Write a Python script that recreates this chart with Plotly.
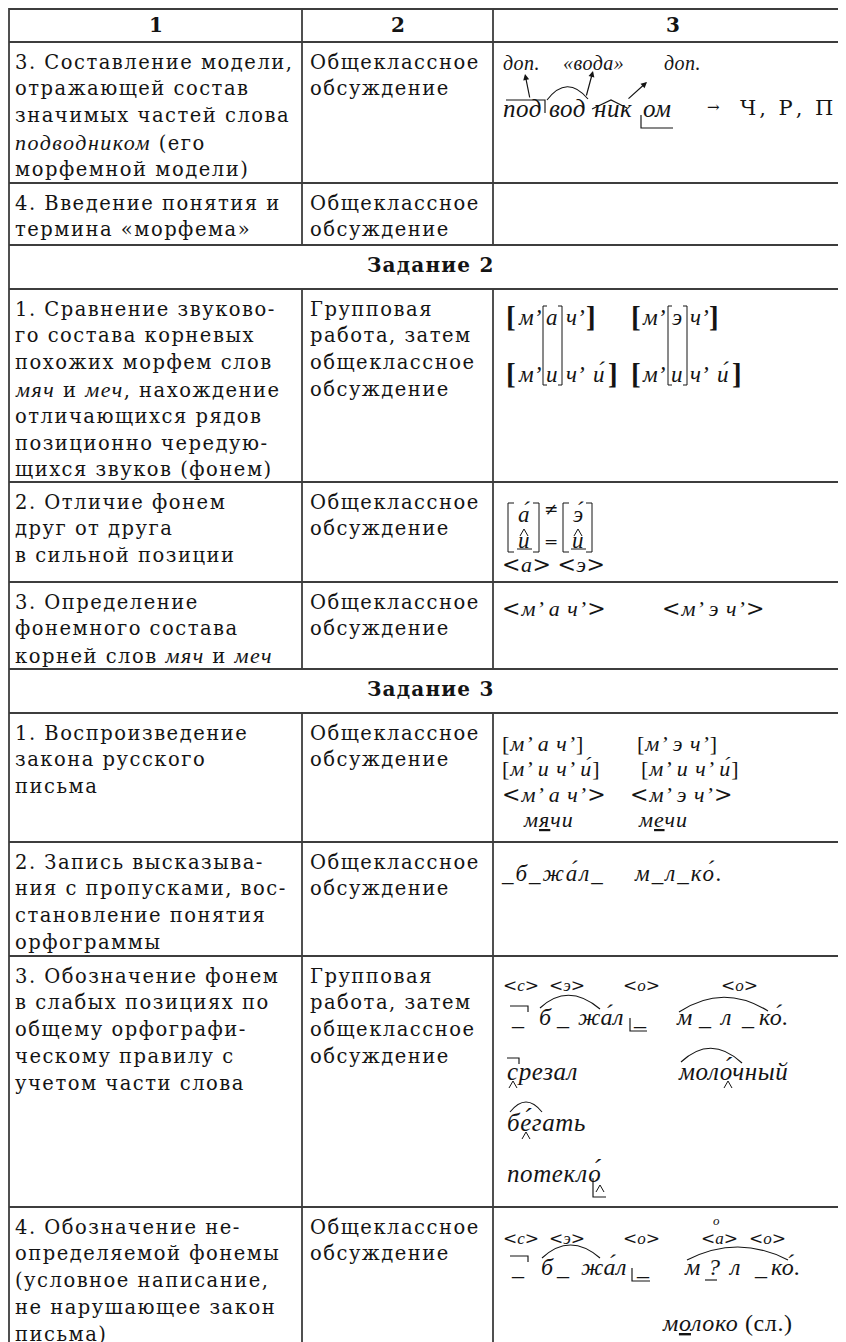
import plotly.graph_objects as go

# ---------------- table texts ----------------
header_labels = ["1", "2", "3"]
section_titles = ["Задание 2", "Задание 3"]

task_lines = [
    ["3. Составление модели,", "отражающей состав", "значимых частей слова",
     "<i>подводником</i> (его", "морфемной модели)"],
    ["4. Введение понятия и", "термина «морфема»"],
    ["1. Сравнение звуково-", "го состава корневых", "похожих морфем слов",
     "<i>мяч</i> и <i>меч</i>, нахождение", "отличающихся рядов",
     "позиционно чередую-", "щихся звуков (фонем)"],
    ["2. Отличие фонем", "друг от друга", "в сильной позиции"],
    ["3. Определение", "фонемного состава", "корней слов <i>мяч</i> и <i>меч</i>"],
    ["1. Воспроизведение", "закона русского", "письма"],
    ["2. Запись высказыва-", "ния с пропусками, вос-", "становление понятия", "орфограммы"],
    ["3. Обозначение фонем", "в слабых позициях по", "общему орфографи-",
     "ческому правилу с", "учетом части слова"],
    ["4. Обозначение не-", "определяемой фонемы", "(условное написание,",
     "не нарушающее закон", "письма)"],
]
GROUP = ["Групповая", "работа, затем", "общеклассное", "обсуждение"]
COMMON = ["Общеклассное", "обсуждение"]
work_form_lines = [COMMON, COMMON, GROUP, COMMON, COMMON, COMMON, COMMON, GROUP, COMMON]

# column 3 notation texts
morph_labels = ["доп.", "«вода»", "доп."]
morph_parts = ["под", "вод", "ник", "ом"]
morph_result = "Ч, Р, П"
sound_line1 = ["м’", "а", "ч’", "м’", "э", "ч’"]
sound_line2 = ["м’", "и", "ч’", "и\u0301", "м’", "и", "ч’", "и\u0301"]
strong_top = ["а\u0301", "э\u0301"]
strong_bottom = ["и", "и"]
strong_signs = ["≠", "="]
phonemes_pair = "&lt;<i>а</i>&gt; &lt;<i>э</i>&gt;"
phoneme_roots = ["&lt;<i>м’ а ч’</i>&gt;", "&lt;<i>м’ э ч’</i>&gt;"]
law_lines = [
    ["[<i>м’ а ч’</i>]", "[<i>м’ э ч’</i>]"],
    ["[<i>м’ и ч’ и\u0301</i>]", "[<i>м’ и ч’ и\u0301</i>]"],
    ["&lt;<i>м’ а ч’</i>&gt;", "&lt;<i>м’ э ч’</i>&gt;"],
    ["<i>м<u>я</u>чи</i>", "<i>м<u>е</u>чи</i>"],
]
gap_words = ["<i>_б_жа\u0301л_</i>", "<i>м_л_ко\u0301.</i>"]
weak_phonemes = ["&lt;<i>с</i>&gt;", "&lt;<i>э</i>&gt;", "&lt;<i>о</i>&gt;", "&lt;<i>о</i>&gt;"]
word1_tokens = ["_", "б", "_", "жа\u0301л", "_"]
word2_tokens = ["м", "_", "л", "_", "ко\u0301."]
check_words = ["срезал", "моло\u0301чный", "бе\u0301гать", "потекло\u0301"]
weak_phonemes4 = ["&lt;<i>с</i>&gt;", "&lt;<i>э</i>&gt;", "&lt;<i>о</i>&gt;", "&lt;<i>а</i>&gt;", "&lt;<i>о</i>&gt;"]
stacked_letter = "о"
word2_tokens4 = ["м", "?", "л", "_", "ко\u0301."]
dictionary_word = "<i>м<u>о</u>локо</i> (сл.)"

# ---------------- styling ----------------
INK = "#141414"
LINE = "#3d3d3d"
UP = "DejaVu Serif"
IT = "Liberation Serif"
# the page body has an 8px margin: the figure covers page pixels 8..846 x 8..1342
OFF = 8
PW, PH = 846, 1342
W, H = PW - OFF, PH - OFF

shapes = []
anns = []


def fix(s):
    s = s.replace("<u>", '<span style="text-decoration:underline">').replace("</u>", "</span>")
    s = s.replace("&lt;", f'<span style="font-family:{UP}">&lt;</span>')
    s = s.replace("&gt;", f'<span style="font-family:{UP}">&gt;</span>')
    return s


def txt(x, y, s, size=18, fam=UP, xanchor="left", bold=False, italic=False, ls=None):
    s = fix(s)
    if italic:
        s = "<i>" + s + "</i>"
    if bold:
        s = "<b>" + s + "</b>"
    if ls is not None:
        s = f'<span style="letter-spacing:{ls}px">' + s + "</span>"
    anns.append(dict(x=x, y=y, xref="x", yref="y", text=s, showarrow=False,
                     xanchor=xanchor, yanchor="middle", borderpad=0,
                     font=dict(family=fam, size=size, color=INK)))


def body(x, y, s):
    s = s.replace("<i>", f'<span style="font-family:{IT};font-style:italic;font-size:22px">').replace("</i>", "</span>")
    txt(x, y, s, size=19.5, fam=UP, ls=1.5)


def seg(x0, y0, x1, y1, w=1.8, color=LINE):
    shapes.append(dict(type="line", xref="x", yref="y", x0=x0, y0=y0, x1=x1, y1=y1,
                       line=dict(color=color, width=w)))


def pth(d, w=1.15, color=INK):
    shapes.append(dict(type="path", xref="x", yref="y", path=d,
                       line=dict(color=color, width=w)))


def caret(xc, yc):
    pth(f"M {xc-4} {yc+4} L {xc} {yc-3} L {xc+4} {yc+4}", w=1.0)


def arrow(tx, ty, hx, hy):
    anns.append(dict(x=hx, y=hy, ax=tx, ay=ty, xref="x", yref="y", axref="x", ayref="y",
                     text="", showarrow=True, arrowhead=2, arrowsize=1.0, arrowwidth=1.2,
                     arrowcolor=INK, standoff=0, startstandoff=0))


# ---------------- grid ----------------
COLS = [9, 302, 493, 853]
H_LINES = [9, 42, 183, 245, 289, 482, 582, 669, 713, 842, 956, 1207]
for y in H_LINES:
    seg(COLS[0], y, PW + 5, y)
seg(COLS[0], 8, COLS[0], PH + 5)
for x in COLS[1:3]:
    for (a, b) in [(8, 245), (289, 669), (713, PH + 5)]:
        seg(x, a, x, b)

# header
for i, lab in enumerate(header_labels):
    txt((COLS[i] + COLS[i + 1]) / 2, 25, lab, size=20, bold=True, xanchor="center")
# sections
for title, (a, b) in zip(section_titles, [(245, 289), (669, 713)]):
    txt(431, (a + b) / 2 - 2, title, size=20, bold=True, xanchor="center", ls=1.2)

ROW_TOPS = [42, 183, 289, 482, 582, 713, 842, 956, 1207]
LH = 26.8
for top, lines1, lines2 in zip(ROW_TOPS, task_lines, work_form_lines):
    for k, s in enumerate(lines1):
        body(14, top + 20 + k * LH, s)
    for k, s in enumerate(lines2):
        body(309, top + 20 + k * LH, s)

# ---------------- column 3 ----------------
# row: morpheme model
for s, x in zip(morph_labels, [502, 562, 663]):
    txt(x, 63, s, size=20, fam=IT, italic=True, ls=0.5)
for s, x in zip(morph_parts, [502, 548, 593, 642]):
    txt(x, 108, s, size=25, fam=IT, italic=True, ls=0.5)
txt(706, 107, "→", size=15, fam=UP)
txt(739, 108, morph_result, size=21, fam=UP, ls=3)
pth("M 506 100 L 545 100 L 545 113")
pth("M 547 100 Q 567 74 588 99")
pth("M 592 109 L 611 100 L 627 108")
pth("M 641 115 L 641 128 L 673 128")
arrow(530, 99, 525, 74)
arrow(586, 97, 593, 71)
arrow(627, 100, 647, 82)

# Задание 2, row 1 : boxed alternating sounds
Y1, Y2 = 317, 374
for x in [505, 630]:
    txt(x, Y1, "[", size=29, fam=IT, bold=True)
    txt(x, Y2, "[", size=29, fam=IT, bold=True)
for x in [585, 708]:
    txt(x, Y1, "]", size=29, fam=IT, bold=True)
for x in [607, 731]:
    txt(x, Y2, "]", size=29, fam=IT, bold=True)
xs1 = [517, 552, 565, 641, 677, 689]
for s, x in zip(sound_line1, xs1):
    txt(x, Y1, s, size=23, fam=IT, italic=True, xanchor="center" if s in ("а", "э") else "left")
xs2 = [517, 552, 565, 592, 641, 677, 689, 716]
for s, x in zip(sound_line2, xs2):
    txt(x, Y2, s, size=23, fam=IT, italic=True, xanchor="center" if s == "и" else "left")
for (l, r) in [(543, 562), (668, 687)]:
    pth(f"M {l+4} 306 L {l} 306 L {l} 385 L {l+4} 385", w=1.0)
    pth(f"M {r-4} 306 L {r} 306 L {r} 385 L {r-4} 385", w=1.0)

# Задание 2, row 2 : strong position
for (l, r) in [(508, 539), (563, 592)]:
    pth(f"M {l+6} 503 L {l} 503 L {l} 552 L {l+6} 552", w=1.0)
    pth(f"M {r-6} 503 L {r} 503 L {r} 552 L {r-6} 552", w=1.0)
for s, b, xc in zip(strong_top, strong_bottom, [524, 578]):
    txt(xc, 514, s, size=23, fam=IT, italic=True, xanchor="center")
    caret(xc, 532)
    txt(xc, 540, b, size=23, fam=IT, italic=True, xanchor="center")
    pth(f"M {xc-7} 549 L {xc+8} 549", w=1.0)
txt(551, 509, strong_signs[0], size=17, fam=UP, xanchor="center")
txt(551, 541, strong_signs[1], size=17, fam=UP, xanchor="center")
txt(501, 564, phonemes_pair, size=22, fam=IT, ls=0.5)

# Задание 2, row 3
for s, x in zip(phoneme_roots, [501, 661]):
    txt(x, 608, s, size=22, fam=IT, ls=1)

# Задание 3, row 1
law_x = [[501, 636], [501, 640], [501, 629], [522, 637]]
for k, (pair, xs) in enumerate(zip(law_lines, law_x)):
    for s, x in zip(pair, xs):
        txt(x, 743 + k * 25.5, s, size=22, fam=IT, ls=1)

# Задание 3, row 2
for s, x in zip(gap_words, [500, 633]):
    txt(x, 873, s, size=23, fam=IT, ls=2)

# Задание 3, row 3
for s, x in zip(weak_phonemes, [502, 548, 622, 720]):
    txt(x, 985, s, size=17, fam=IT)
YC = 1017
for s, x in zip(word1_tokens, [510, 538, 555, 577, 632]):
    txt(x, YC, s, size=24, fam=IT, italic=True, ls=0.5)
for s, x in zip(word2_tokens, [675, 697, 718, 740, 758]):
    txt(x, YC, s, size=24, fam=IT, italic=True, ls=0.5)
pth(f"M 510 {YC-11} L 528 {YC-11} L 528 {YC-5}")
pth(f"M 630 {YC+1} L 630 {YC+14} L 647 {YC+14}")
pth("M 540 1008 Q 568 982 600 1009")
pth("M 679 1012 Q 723 983 768 1011")
check_pos = [(506, 1071), (677, 1071), (506, 1122), (506, 1173)]
for s, (x, y) in zip(check_words, check_pos):
    txt(x, y, s, size=25, fam=IT, italic=True, ls=0.6)
pth("M 507 1058 L 519 1058 L 519 1064")
caret(513, 1084)
pth("M 681 1062 Q 711 1034 742 1063")
caret(728, 1084)
pth("M 510 1112 Q 526 1092 542 1112")
caret(526, 1135)
pth("M 593 1178 L 593 1197 L 606 1197")
caret(600, 1188)

# Задание 3, row 4
for s, x in zip(weak_phonemes4, [502, 548, 622, 700, 748]):
    txt(x, 1238, s, size=17, fam=IT)
txt(716, 1220, stacked_letter, size=13, fam=IT, italic=True, xanchor="center")
YD = 1267
for s, x in zip(word1_tokens, [510, 540, 555, 580, 635]):
    txt(x, YD, s, size=24, fam=IT, italic=True, ls=0.5)
for s, x in zip(word2_tokens4, [683, 707, 727, 753, 770]):
    txt(x, YD, s, size=24, fam=IT, italic=True, ls=0.5)
pth(f"M 510 {YD-11} L 528 {YD-11} L 528 {YD-5}")
pth(f"M 632 {YD+1} L 632 {YD+14} L 650 {YD+14}")
pth(f"M 705 {YD+13} L 717 {YD+13}")
pth("M 542 1258 Q 570 1232 600 1258")
pth("M 687 1260 Q 738 1234 788 1260")
txt(661, 1323, dictionary_word, size=24, fam=IT, ls=0.6)

fig = go.Figure()
fig.update_layout(
    width=W, height=H, margin=dict(l=0, r=0, t=0, b=0),
    paper_bgcolor="white", plot_bgcolor="white",
    xaxis=dict(range=[OFF, PW], visible=False, fixedrange=True),
    yaxis=dict(range=[PH, OFF], visible=False, fixedrange=True),
    shapes=shapes, annotations=anns, showlegend=False,
)
fig.write_html("out.html")
